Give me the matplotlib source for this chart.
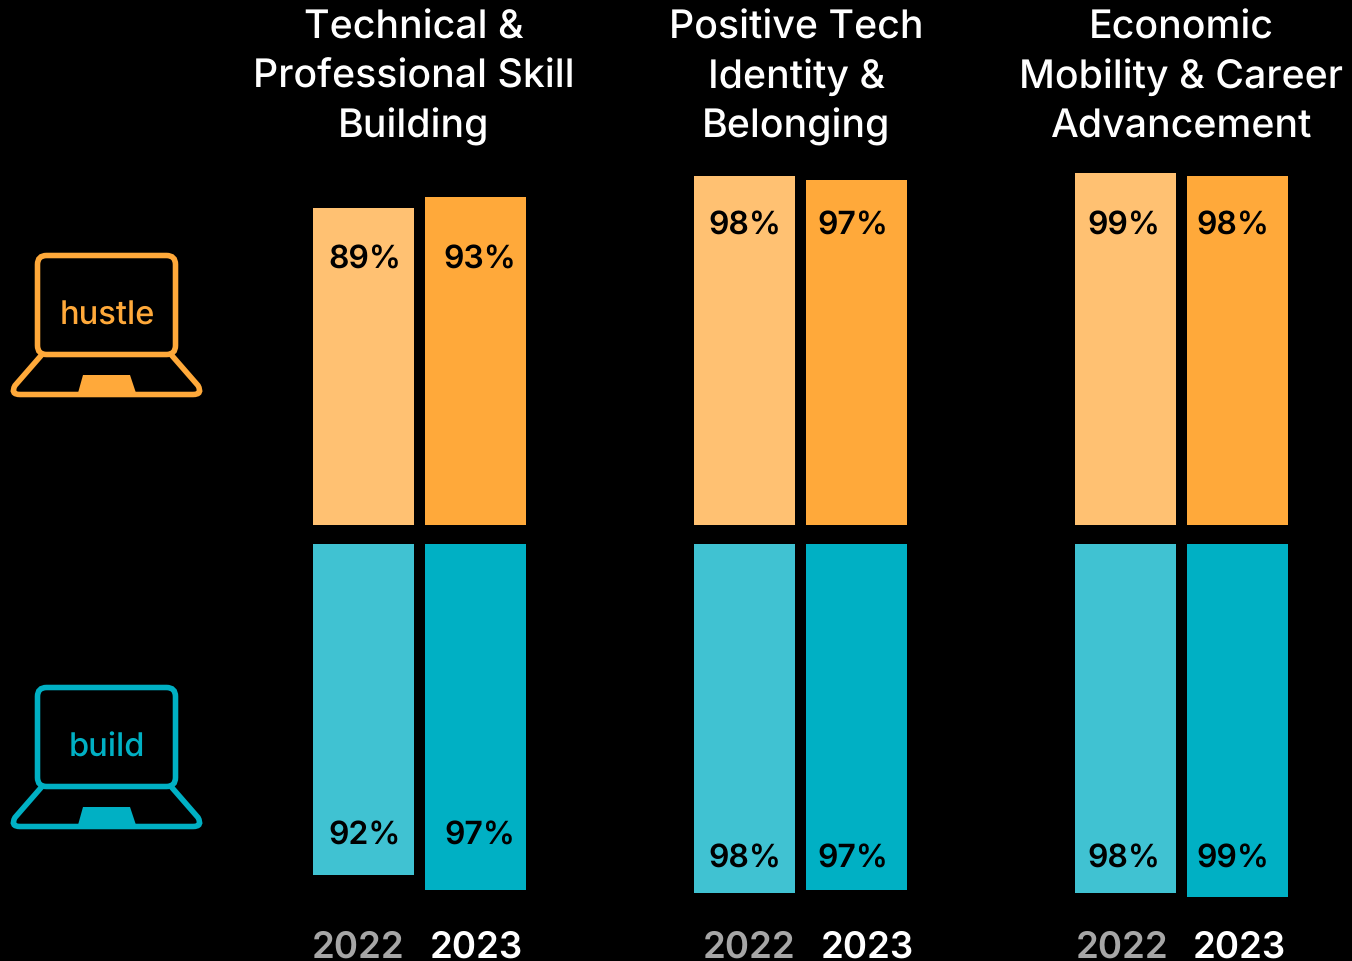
import matplotlib
matplotlib.use("Agg")
import matplotlib.pyplot as plt
from matplotlib.patches import FancyBboxPatch, Polygon, PathPatch
from matplotlib.path import Path

plt.rcParams["text.hinting"] = "no_hinting"
plt.rcParams["text.hinting_factor"] = 1

# Values
titles = [
    ["Technical &", "Professional Skill", "Building"],
    ["Positive Tech", "Identity &", "Belonging"],
    ["Economic", "Mobility & Career", "Advancement"],
]
years = ["2022", "2023"]
hustle_2022 = [89, 98, 98.8]
hustle_2023 = [92, 96.9, 98]
build_2022 = [93, 98, 98]
build_2023 = [97.2, 97.2, 99.2]
hustle_labels_2022 = ["89%", "98%", "99%"]
hustle_labels_2023 = ["93%", "97%", "98%"]
build_labels_2022 = ["92%", "98%", "98%"]
build_labels_2023 = ["97%", "97%", "99%"]

ORANGE = "#FFA93A"
ORANGE_LIGHT = "#FFC172"
TEAL = "#00B0C4"
TEAL_LIGHT = "#40C2D2"
GREY = "#A6A6A6"
FONT = "Inter"

W, H = 1352, 962
PX_PER_PCT = 3.56

fig = plt.figure(figsize=(W / 100, H / 100), dpi=100, facecolor="black")

# overlay in pixel coordinates for the text and the icons
ov = fig.add_axes([0, 0, 1, 1], zorder=3)
ov.set_xlim(0, W)
ov.set_ylim(H, 0)
ov.axis("off")

# top bars grow up from y=525, bottom bars grow down from y=545
ax_top = fig.add_axes([0, 1 - 525.5 / H, 1, 525.5 / H])
ax_top.set_xlim(0, W)
ax_top.set_ylim(0, 525.5 / PX_PER_PCT)
ax_bot = fig.add_axes([0, 0, 1, (H - 545) / H])
ax_bot.set_xlim(0, W)
ax_bot.set_ylim((H - 545) / PX_PER_PCT, 0)
for a in (ax_top, ax_bot):
    a.axis("off")

left_x = [363.5, 744.5, 1125.5]
right_x = [475.5, 856.5, 1237.5]
bar_w = 101

ax_top.bar(left_x, hustle_2022, width=bar_w, color=ORANGE_LIGHT)
ax_top.bar(right_x, hustle_2023, width=bar_w, color=ORANGE)
ax_bot.bar(left_x, build_2022, width=bar_w, color=TEAL_LIGHT)
ax_bot.bar(right_x, build_2023, width=bar_w, color=TEAL)

# bar labels
lab_left_x = [365, 745, 1124]
lab_right_x = [480, 853, 1233]
top_y = [269, 235, 235]
bot_y = [845, 868, 868]
for i in range(3):
    for x, y, s in [
        (lab_left_x[i], top_y[i], hustle_labels_2022[i]),
        (lab_right_x[i], top_y[i], hustle_labels_2023[i]),
        (lab_left_x[i], bot_y[i], build_labels_2022[i]),
        (lab_right_x[i], bot_y[i], build_labels_2023[i]),
    ]:
        ov.text(x, y, s, color="black", fontsize=23, fontweight="semibold", family=FONT,
                ha="center", va="baseline")

# column titles, one text per line so the baselines stay even
title_x = [413.5, 796.5, 1181]
title_y = [39, 88, 138]
for x, lines in zip(title_x, titles):
    for y, line in zip(title_y, lines):
        ov.text(x, y, line, color="white", fontsize=28.3, family=FONT, fontweight="medium",
                ha="center", va="baseline")

# years under the bars
year_x = [(358, 476), (749, 867), (1122, 1239)]
for xa, xb in year_x:
    ov.text(xa, 958, years[0], color=GREY, fontsize=26.4, fontweight="semibold", family=FONT,
            ha="center", va="baseline")
    ov.text(xb, 958, years[1], color="white", fontsize=26.4, fontweight="semibold", family=FONT,
            ha="center", va="baseline")


def laptop(dy, color, name):
    ov.add_patch(FancyBboxPatch((37.5, 256.5 + dy), 138, 99,
                                boxstyle="round,pad=0,rounding_size=9",
                                fc="none", ec=color, lw=4))
    verts = [(42, 355.5 + dy), (15, 386.5 + dy), (10, 395.5 + dy), (20, 395.5 + dy),
             (193, 395.5 + dy), (203, 395.5 + dy), (198, 386.5 + dy), (171, 355.5 + dy)]
    codes = [Path.MOVETO, Path.LINETO, Path.CURVE3, Path.CURVE3,
             Path.LINETO, Path.CURVE3, Path.CURVE3, Path.LINETO]
    ov.add_patch(PathPatch(Path(verts, codes), fc="none", ec=color, lw=4))
    ov.add_patch(Polygon([(78, 394 + dy), (83, 376 + dy), (130, 376 + dy), (136, 394 + dy)],
                         fc=color, ec="none"))
    ov.text(107, 325 + dy, name, color=color, fontsize=23.5, family=FONT, fontweight="medium",
            ha="center", va="baseline")


laptop(0, ORANGE, "hustle")
laptop(432, TEAL, "build")

fig.savefig("out.png", dpi=100, facecolor="black")
